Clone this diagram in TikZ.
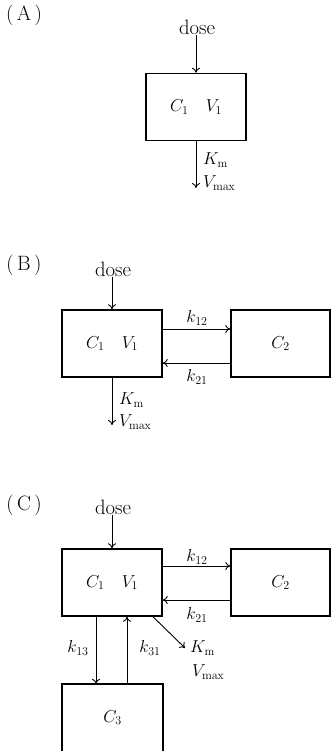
\documentclass[tikz,border=0pt]{standalone}
\usetikzlibrary{arrows.meta}
\begin{document}
\begin{tikzpicture}[x=1pt,y=-1pt,
  every node/.style={font=\LARGE, inner sep=1pt},
  big/.style={font=\huge},
  comp/.style={draw, line width=1.5pt, minimum width=100pt, minimum height=67pt},
  flow/.style={line width=0.9pt, -{To[length=5pt,width=8pt]}},
  lbl/.style={anchor=west}]
\useasboundingbox (0,0) rectangle (331,751);

% ---------- (A)
\node[big] (tA) at (24,15) {(\,A\,)};
\node[big] (doseA) at (197,27) {dose};
\node[comp] (a1) at (196,107) {$C_1\quad V_1$};
\coordinate (aout) at (196,188);
\draw[flow] (doseA.south -| a1.north) -- (a1.north);
\draw[flow] (a1.south) -- (aout);
\node[lbl] (kmA) at (202,160) {$K_{\mathrm{m}}$};
\node[lbl] (vmA) at (202,183) {$V_{\mathrm{max}}$};

% ---------- (B)
\node[big] (tB) at (24,265) {(\,B\,)};
\node[big] (doseB) at (113,269) {dose};
\node[comp] (b1) at (112,343.5) {$C_1\quad V_1$};
\node[comp, minimum width=99pt] (b2) at (280.5,343.5) {$C_2$};
\draw[flow] (doseB.south -| b1.north) -- (b1.north);
\draw[flow] ([yshift=14.5pt]b1.east) -- ([yshift=14.5pt]b2.west);
\draw[flow] ([yshift=-19.5pt]b2.west) -- ([yshift=-19.5pt]b1.east);
\node (k12B) at (197,318) {$k_{12}$};
\node (k21B) at (197,377) {$k_{21}$};
\coordinate (bout) at (112,425);
\draw[flow] (b1.south) -- (bout);
\node[lbl] (kmB) at (118,400) {$K_{\mathrm{m}}$};
\node[lbl] (vmB) at (118,422) {$V_{\mathrm{max}}$};

% ---------- (C)
\node[big] (tC) at (24,505) {(\,C\,)};
\node[big] (doseC) at (113,507) {dose};
\node[comp] (c1) at (112,582.5) {$C_1\quad V_1$};
\node[comp, minimum width=99pt] (c2) at (280.5,582.5) {$C_2$};
\node[minimum width=101pt, minimum height=67pt] (c3) at (112.5,717.5) {$C_3$};
\draw[line width=1.5pt] (c3.south west) -- (c3.north west) -- (c3.north east) -- (c3.south east);
\draw[flow] (doseC.south -| c1.north) -- (c1.north);
\draw[flow] ([yshift=16.5pt]c1.east) -- ([yshift=16.5pt]c2.west);
\draw[flow] ([yshift=-17.5pt]c2.west) -- ([yshift=-17.5pt]c1.east);
\node (k12C) at (197,557) {$k_{12}$};
\node (k21C) at (197,615) {$k_{21}$};
\draw[flow] ([xshift=-16pt]c1.south) -- ([xshift=-16.5pt]c3.north);
\draw[flow] ([xshift=14.5pt]c3.north) -- ([xshift=15pt]c1.south);
\node (k13) at (78,648) {$k_{13}$};
\node (k31) at (150,648) {$k_{31}$};
\coordinate (cout) at (185,648);
\draw[flow] ([xshift=41pt]c1.south) -- (cout);
\node[lbl] (kmC) at (189,648) {$K_{\mathrm{m}}$};
\node[lbl] (vmC) at (191,672) {$V_{\mathrm{max}}$};
\end{tikzpicture}
\end{document}
